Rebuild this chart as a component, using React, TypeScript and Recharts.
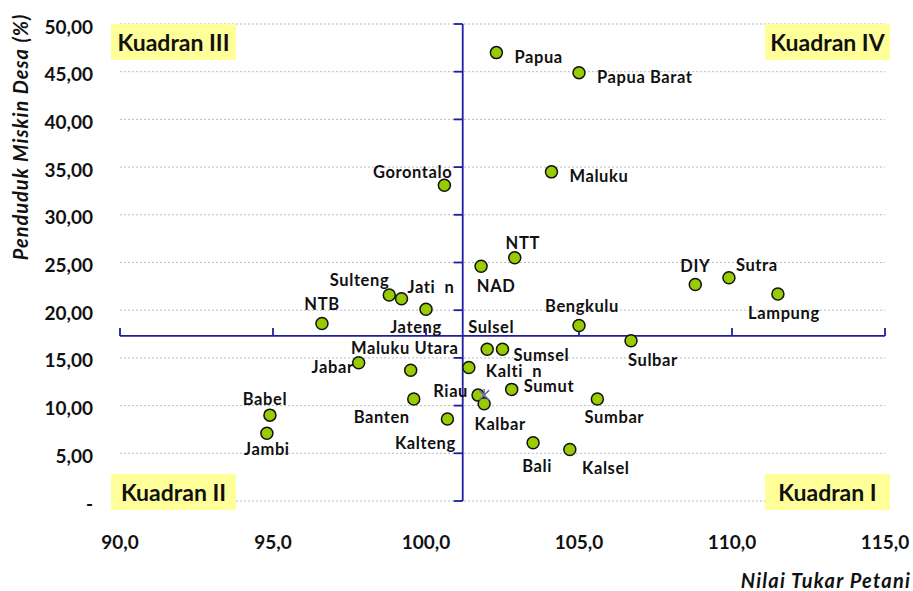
import React from "react";
import {
  ScatterChart,
  Scatter,
  XAxis,
  YAxis,
  CartesianGrid,
  ReferenceLine,
  ReferenceDot,
  Label,
} from "recharts";

// NTP (x) vs persentase penduduk miskin desa (y) per provinsi
const provinces = [
  "Papua", "Papua Barat", "Maluku", "Gorontalo", "NAD", "NTT", "DIY", "Sutra",
  "Lampung", "Sulteng", "Jati  n", "Jateng", "NTB", "Bengkulu", "Sulbar", "Sulsel",
  "Sumsel", "Jabar", "Maluku Utara", "Kalti  n", "Sumut", "Riau", "Kalbar", "Sumbar",
  "Banten", "Kalteng", "Babel", "Jambi", "Bali", "Kalsel",
];
const ntp = [
  102.3, 105.0, 104.1, 100.6, 101.8, 102.9, 108.8, 109.9,
  111.5, 98.8, 99.2, 100.0, 96.6, 105.0, 106.7, 102.0,
  102.5, 97.8, 99.5, 101.4, 102.8, 101.7, 101.9, 105.6,
  99.6, 100.7, 94.9, 94.8, 103.5, 104.7,
];
const miskin = [
  47.0, 44.9, 34.5, 33.1, 24.6, 25.5, 22.7, 23.4,
  21.7, 21.6, 21.2, 20.1, 18.6, 18.4, 16.8, 15.9,
  15.9, 14.5, 13.7, 14.0, 11.7, 11.1, 10.2, 10.7,
  10.7, 8.6, 9.0, 7.1, 6.1, 5.4,
];
// titik rata-rata (penanda bintang)
const meanNtp = [101.9];
const meanMiskin = [11.1];

// titik potong sumbu kuadran
const crossX = 101.2;
const crossY = 17.3;

const xTicks = [90, 95, 100, 105, 110, 115];
const yTicks = [0, 5, 10, 15, 20, 25, 30, 35, 40, 45, 50];
const quadrants = ["Kuadran III", "Kuadran IV", "Kuadran II", "Kuadran I"];

const points = provinces.map((name, i) => ({ name, x: ntp[i], y: miskin[i] }));
const meanPoints = meanNtp.map((x, i) => ({ x, y: meanMiskin[i] }));

// posisi label: [dx, dy, anchor]
const labelPos: Record<string, [number, number, string]> = {
  Papua: [18, 4, "start"],
  "Papua Barat": [18, 4, "start"],
  Maluku: [18, 4, "start"],
  Gorontalo: [8, -13, "end"],
  NTT: [8, -15, "middle"],
  NAD: [15, 20, "middle"],
  DIY: [0, -18, "middle"],
  Sutra: [7, -13, "start"],
  Lampung: [6, 19, "middle"],
  Sulteng: [0, -15, "end"],
  "Jati  n": [6, -12, "start"],
  Jateng: [-10, 18, "middle"],
  NTB: [0, -20, "middle"],
  Bengkulu: [3, -19, "middle"],
  Sulsel: [4, -22, "middle"],
  Sumsel: [11, 6, "start"],
  Sulbar: [-3, 19, "start"],
  "Kalti  n": [17, 4, "start"],
  Sumut: [12, -3, "start"],
  Riau: [-10, -4, "end"],
  Kalbar: [16, 20, "middle"],
  Sumbar: [17, 18, "middle"],
  "Maluku Utara": [-6, -22, "middle"],
  Jabar: [-5, 4, "end"],
  Banten: [-4, 18, "end"],
  Kalteng: [-22, 24, "middle"],
  Babel: [-5, -16, "middle"],
  Jambi: [0, 16, "middle"],
  Bali: [4, 23, "middle"],
  Kalsel: [36, 19, "middle"],
};

const FONT = "Lato, 'Open Sans', sans-serif";
const AXIS_BLUE = "#1f1f9f";

const fmtY = (v: number) => (v === 0 ? "-" : v.toFixed(2).replace(".", ","));
const fmtX = (v: number) => v.toFixed(1).replace(".", ",");

function YTick(props: any) {
  const { y, payload } = props;
  return (
    <text x={93} y={y + 2} textAnchor="end" dominantBaseline="central"
      fontFamily={FONT} fontWeight={700} fontSize={19} fill="#111">
      {fmtY(payload.value)}
    </text>
  );
}

function XTick(props: any) {
  const { x, y, payload } = props;
  return (
    <text x={x} y={y + 40} textAnchor="middle" dominantBaseline="central"
      fontFamily={FONT} fontWeight={700} fontSize={19} fill="#111">
      {fmtX(payload.value)}
    </text>
  );
}

function ProvinceDot(props: any) {
  const { cx, cy, payload } = props;
  const [dx, dy, anchor] = labelPos[payload.name] || [10, 0, "start"];
  return (
    <g>
      <circle cx={cx} cy={cy} r={6} fill="#99cc00" stroke="#111" strokeWidth={1.5} />
      <text x={cx + dx} y={cy + dy} textAnchor={anchor as any} dominantBaseline="central"
        fontFamily={FONT} fontWeight={700} fontSize={16.5} letterSpacing={0.6}
        fill="#111" style={{ whiteSpace: "pre" }}>
        {payload.name}
      </text>
    </g>
  );
}

function StarMark(props: any) {
  const { cx, cy } = props;
  return (
    <g stroke="#6e6ea8" strokeWidth={1.5}>
      <line x1={cx - 5} y1={cy - 5} x2={cx + 5} y2={cy + 5} />
      <line x1={cx - 5} y1={cy + 5} x2={cx + 5} y2={cy - 5} />
      <line x1={cx} y1={cy - 6} x2={cx} y2={cy + 1} />
    </g>
  );
}

const QuadBox = ({ text, left, top }: { text: string; left: number; top: number }) => (
  <div
    style={{
      position: "absolute",
      left,
      top,
      width: 125,
      height: 36,
      background: "#ffff99",
      display: "flex",
      alignItems: "center",
      justifyContent: "center",
      fontFamily: FONT,
      fontWeight: 700,
      fontSize: 23,
      color: "#111",
    }}
  >
    {text}
  </div>
);

export default function App() {
  return (
    <div style={{ position: "relative", width: 913, height: 591, background: "#fff" }}>
      <style>{`body{margin:0}`}</style>
      <ScatterChart width={913} height={591} margin={{ top: 24, right: 28, bottom: 0, left: 0 }}>
        <CartesianGrid horizontal vertical={false} stroke="#bbb" strokeDasharray="2 2" />
        <XAxis
          type="number"
          dataKey="x"
          domain={[90, 115]}
          ticks={xTicks}
          axisLine={false}
          tickLine={false}
          tickSize={0}
          tickMargin={0}
          height={90}
          tick={<XTick />}
          interval={0}
        >
          <Label
            content={() => (
              <text x={911} y={580} textAnchor="end" dominantBaseline="central"
                fontFamily={FONT} fontStyle="italic" fontWeight={700} fontSize={20}
                letterSpacing={1.2} fill="#111">
                Nilai Tukar Petani
              </text>
            )}
          />
        </XAxis>
        <YAxis
          type="number"
          dataKey="y"
          domain={[0, 50]}
          ticks={yTicks}
          axisLine={false}
          tickLine={false}
          width={120}
          tick={<YTick />}
          interval={0}
        >
          <Label
            content={() => (
              <text x={20} y={137} textAnchor="middle" dominantBaseline="central"
                transform="rotate(-90 20 137)"
                fontFamily={FONT} fontStyle="italic" fontWeight={700} fontSize={20}
                letterSpacing={1} fill="#111">
                Penduduk Miskin Desa (%)
              </text>
            )}
          />
        </YAxis>

        {/* sumbu kuadran */}
        <ReferenceLine x={crossX} stroke={AXIS_BLUE} strokeWidth={1.8} />
        <ReferenceLine y={crossY} stroke={AXIS_BLUE} strokeWidth={1.8} />
        {yTicks.map((v) => (
          <ReferenceDot
            key={`yt${v}`}
            x={crossX}
            y={v}
            shape={(p: any) => (
              <line x1={p.cx - 9} y1={p.cy} x2={p.cx} y2={p.cy} stroke={AXIS_BLUE} strokeWidth={1.8} />
            )}
          />
        ))}
        {xTicks.map((v) => (
          <ReferenceDot
            key={`xt${v}`}
            x={v}
            y={crossY}
            shape={(p: any) => (
              <line x1={p.cx} y1={p.cy - 8} x2={p.cx} y2={p.cy} stroke={AXIS_BLUE} strokeWidth={1.8} />
            )}
          />
        ))}

        <Scatter data={points} shape={<ProvinceDot />} isAnimationActive={false} />
        <Scatter data={meanPoints} shape={<StarMark />} isAnimationActive={false} />
      </ScatterChart>

      <QuadBox text={quadrants[0]} left={111} top={24} />
      <QuadBox text={quadrants[1]} left={765} top={24} />
      <QuadBox text={quadrants[2]} left={111} top={474} />
      <QuadBox text={quadrants[3]} left={765} top={474} />
    </div>
  );
}
